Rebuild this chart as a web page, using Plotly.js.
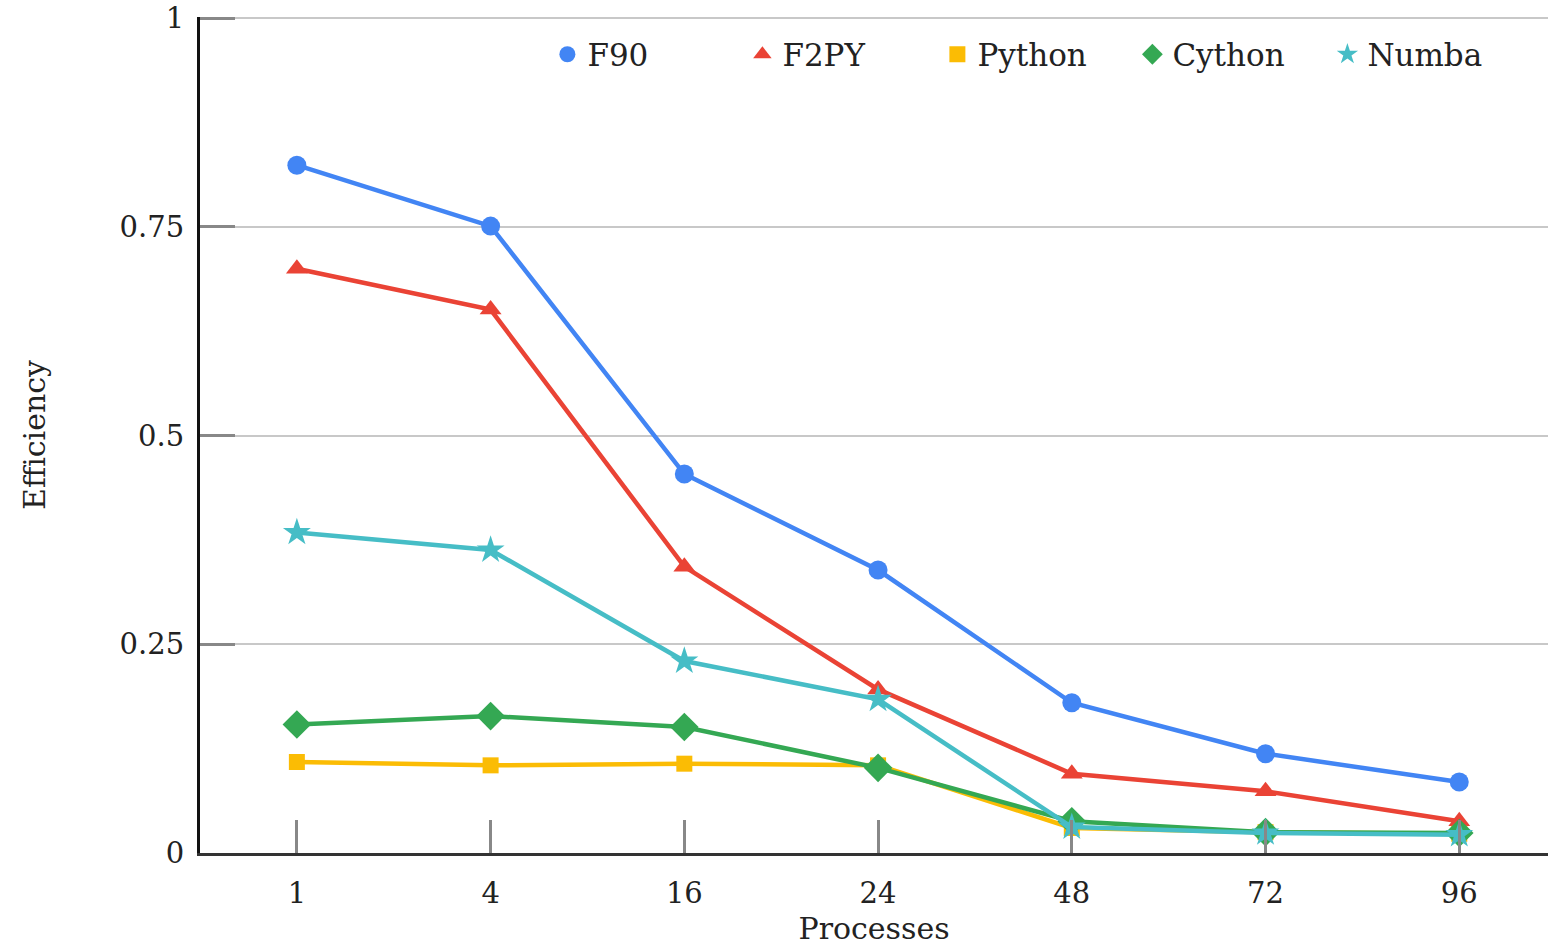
<!DOCTYPE html>
<html><head><meta charset="utf-8">
<script src="https://cdn.plot.ly/plotly-3.0.1.min.js"></script>
<style>html,body{margin:0;padding:0;background:#fff}#c{width:1548px;height:947px}</style>
</head><body><div id="c"></div>
<script>
const processes = ['1','4','16','24','48','72','96'];
const f90    = [0.824, 0.751, 0.454, 0.339, 0.180, 0.119, 0.085];
const f2py   = [0.700, 0.651, 0.343, 0.196, 0.095, 0.074, 0.038];
const python = [0.109, 0.105, 0.107, 0.105, 0.030, 0.025, 0.023];
const cython = [0.154, 0.164, 0.151, 0.102, 0.038, 0.025, 0.024];
const numba  = [0.384, 0.363, 0.230, 0.184, 0.031, 0.024, 0.022];
const yTicks = [0, 0.25, 0.5, 0.75, 1];
const yTickText = ['0', '0.25', '0.5', '0.75', '1'];

const FONT = 'Georgia, "DejaVu Serif", serif';
const series = [
  {name:'F90', y:f90, color:'#4285f4', symbol:'circle', size:19},
  {name:'F2PY', y:f2py, color:'#ea4335', symbol:'triangle-up', size:19},
  {name:'Python', y:python, color:'#fbbc04', symbol:'square', size:16},
  {name:'Cython', y:cython, color:'#34a853', symbol:'diamond', size:22},
  {name:'Numba', y:numba, color:'#46bdc6', symbol:'star', size:21}
];
const data = [];
series.forEach(s => {
  data.push({type:'scatter', mode:'lines+markers', name:s.name, x:processes, y:s.y, showlegend:false,
    line:{color:s.color, width:4.5}, marker:{color:s.color, symbol:s.symbol, size:s.size, line:{width:0}}});
});
// legend entries: marker only
series.forEach(s => {
  data.push({type:'scatter', mode:'markers', name:s.name, x:[null], y:[null], showlegend:true,
    marker:{color:s.color, symbol:s.symbol, size:30, line:{width:0}}});
});
const layout = {
  width:1548, height:947,
  margin:{l:200, r:0, t:17, b:94},
  paper_bgcolor:'#fff', plot_bgcolor:'#fff',
  font:{family:FONT, size:28, color:'#222'},
  showlegend:true,
  legend:{orientation:'h', x:0.981, xanchor:'right', y:0.955, yanchor:'middle',
    font:{family:FONT, size:31, color:'#222'}, bgcolor:'rgba(0,0,0,0)', traceorder:'normal',
    entrywidth:150, entrywidthmode:'pixels', itemsizing:'trace'},
  xaxis:{type:'category', range:[-0.5, 6.458], showgrid:false, showline:true, linecolor:'#333', linewidth:3,
    ticks:'inside', ticklen:33, tickwidth:3, tickcolor:'#888', ticklabelstandoff:12,
    tickfont:{family:FONT, size:29, color:'#222'},
    title:{text:'Processes', font:{family:FONT, size:30, color:'#222'}, standoff:10},
    zeroline:false, fixedrange:true},
  yaxis:{range:[0,1.0015], tickvals:yTicks, ticktext:yTickText, showgrid:true, gridcolor:'#c8c8c8', gridwidth:2,
    showline:true, linecolor:'#111', linewidth:3, zeroline:false,
    ticks:'inside', ticklen:35, tickwidth:3, tickcolor:'#888', ticklabelstandoff:7,
    tickfont:{family:FONT, size:29, color:'#222'},
    title:{text:'Efficiency', font:{family:FONT, size:30, color:'#222'}, standoff:66}},
};
Plotly.newPlot('c', data, layout, {displayModeBar:false, staticPlot:true});
</script></body></html>
